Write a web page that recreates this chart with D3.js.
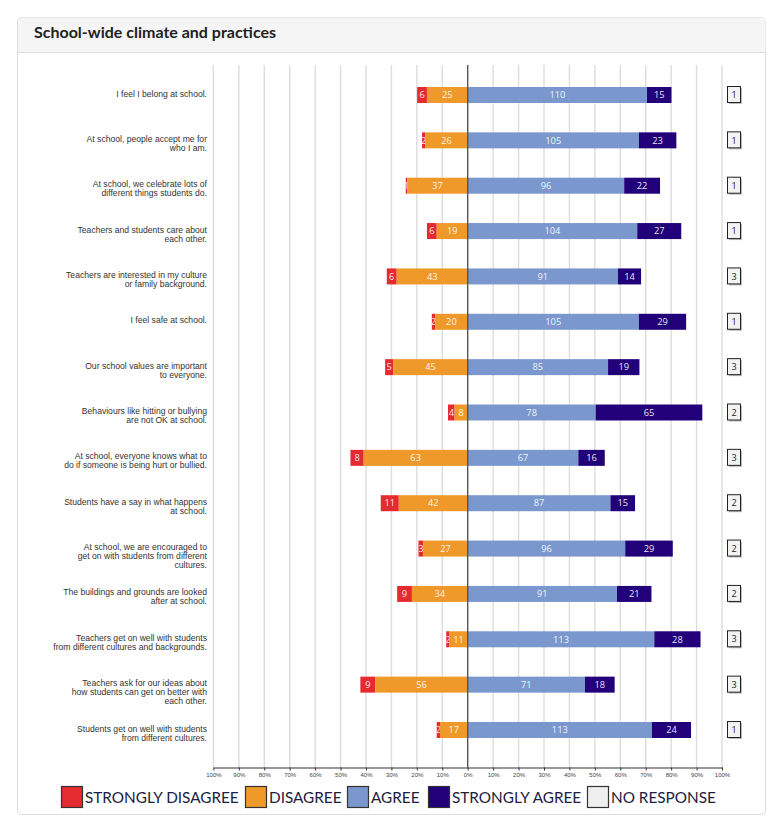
<!doctype html>
<html lang="en">
<head>
  <meta charset="UTF-8">
  <title>School-wide climate and practices</title>
  <style type="text/css">
    body { margin: 0; background: #fff; }
    svg { display: block; }
  </style>
  <script src="https://cdn.jsdelivr.net/npm/d3@7"></script>
</head>
<body>
  <svg id="chart" width="784" height="830"></svg>
  <script>
    // statements, each one already split into its display lines
    let statements = [
      ["I feel I belong at school."],
      ["At school, people accept me for", "who I am."],
      ["At school, we celebrate lots of", "different things students do."],
      ["Teachers and students care about", "each other."],
      ["Teachers are interested in my culture", "or family background."],
      ["I feel safe at school."],
      ["Our school values are important", "to everyone."],
      ["Behaviours like hitting or bullying", "are not OK at school."],
      ["At school, everyone knows what to", "do if someone is being hurt or bullied."],
      ["Students have a say in what happens", "at school."],
      ["At school, we are encouraged to", "get on with students from different", "cultures."],
      ["The buildings and grounds are looked", "after at school."],
      ["Teachers get on well with students", "from different cultures and backgrounds."],
      ["Teachers ask for our ideas about", "how students can get on better with", "each other."],
      ["Students get on well with students", "from different cultures."]
    ]
    let stronglyDisagree = [6, 2, 1, 6, 6, 2, 5, 4, 8, 11, 3, 9, 2, 9, 2]
    let disagree = [25, 26, 37, 19, 43, 20, 45, 8, 63, 42, 27, 34, 11, 56, 17]
    let agree = [110, 105, 96, 104, 91, 105, 85, 78, 67, 87, 96, 91, 113, 71, 113]
    let stronglyAgree = [15, 23, 22, 27, 14, 29, 19, 65, 16, 15, 29, 21, 28, 18, 24]
    let noResponse = [1, 1, 1, 1, 3, 1, 3, 2, 3, 2, 2, 2, 3, 3, 1]
    let tickValues = [-100, -90, -80, -70, -60, -50, -40, -30, -20, -10, 0, 10, 20, 30, 40, 50, 60, 70, 80, 90, 100]
    let legendNames = ["STRONGLY DISAGREE", "DISAGREE", "AGREE", "STRONGLY AGREE", "NO RESPONSE"]
    let colors = ["#e52a30", "#f0992b", "#7a98ce", "#22007a", "#efefef"]

    let svg = d3.select("#chart")

    // card + header
    svg.append("rect").attr("x", 17.5).attr("y", 17.5).attr("width", 748).attr("height", 797)
      .attr("rx", 4).attr("fill", "#fff").attr("stroke", "#ddd")
    svg.append("path").attr("d", "M18,52 V21.5 a4,4 0 0 1 4,-4 H761.5 a4,4 0 0 1 4,4 V52 Z")
      .attr("fill", "#f5f5f5")
    svg.append("line").attr("x1", 18).attr("x2", 765).attr("y1", 52.5).attr("y2", 52.5).attr("stroke", "#ddd")
    svg.append("text").attr("x", 34).attr("y", 38).text("School-wide climate and practices")
      .attr("font-family", "Lato").attr("font-weight", "bold").attr("font-size", 16).attr("fill", "#222")

    let x = d3.scaleLinear().domain([-100, 100]).range([213.4, 722])
    let y = d3.scalePoint().domain(d3.range(statements.length)).range([95, 730])
    let gridTop = 65, gridBottom = 767.5

    // grid
    svg.append("g").selectAll("line")
      .data(tickValues.filter(d => d != 0))
      .enter().append("line")
      .attr("x1", d => x(d)).attr("x2", d => x(d))
      .attr("y1", gridTop).attr("y2", gridBottom)
      .attr("stroke", "#ddd").attr("stroke-width", 1.4)

    // rows: percentages are of those who answered (no response left out)
    let rows = statements.map(function (s, i) {
      let total = stronglyDisagree[i] + disagree[i] + agree[i] + stronglyAgree[i]
      let p = v => v / total * 100
      return {
        i: i,
        segs: [
          { k: 0, v: stronglyDisagree[i], x0: -p(disagree[i] + stronglyDisagree[i]), x1: -p(disagree[i]) },
          { k: 1, v: disagree[i], x0: -p(disagree[i]), x1: 0 },
          { k: 2, v: agree[i], x0: 0, x1: p(agree[i]) },
          { k: 3, v: stronglyAgree[i], x0: p(agree[i]), x1: p(agree[i] + stronglyAgree[i]) }
        ]
      }
    })

    let barH = 16
    let defs = svg.append("defs")
    let row = svg.append("g").selectAll("g").data(rows).enter().append("g")

    let seg = row.selectAll("g").data(d => d.segs.map(s => Object.assign({ i: d.i }, s)))
      .enter().append("g")
    seg.each(function (d) {
      defs.append("clipPath").attr("id", "c" + d.i + "_" + d.k)
        .append("rect")
        .attr("x", x(d.x0)).attr("width", x(d.x1) - x(d.x0))
        .attr("y", y(d.i) - barH / 2).attr("height", barH)
    })
    seg.append("rect")
      .attr("x", d => x(d.x0)).attr("width", d => x(d.x1) - x(d.x0))
      .attr("y", d => y(d.i) - barH / 2).attr("height", barH)
      .attr("fill", d => colors[d.k])
    seg.append("text")
      .attr("clip-path", d => "url(#c" + d.i + "_" + d.k + ")")
      .attr("x", d => (x(d.x0) + x(d.x1)) / 2).attr("y", d => y(d.i))
      .attr("dy", "0.35em").attr("text-anchor", "middle")
      .attr("font-family", "Open Sans").attr("font-size", 9.3).attr("fill", "#fff").attr("fill-opacity", 0.92)
      .text(d => d.v)

    // zero line
    svg.append("line").attr("x1", x(0)).attr("x2", x(0)).attr("y1", gridTop).attr("y2", gridBottom)
      .attr("stroke", "#555").attr("stroke-width", 1.4)

    // statement labels
    row.append("text")
      .attr("text-anchor", "end")
      .attr("font-family", "Liberation Sans, Arial").attr("font-size", 8.6).attr("fill", "#333")
      .selectAll("tspan").data(d => statements[d.i].map((t, j) => ({ t: t, j: j, i: d.i })))
      .enter().append("tspan")
      .attr("x", 207).attr("y", d => y(d.i) - 1.5 + d.j * 9).attr("dy", "0.35em")
      .text(d => d.t)

    // no response boxes
    row.append("rect").attr("x", 729).attr("y", d => y(d.i) - 7).attr("width", 13).attr("height", 16)
      .attr("fill", "#bbb")
    row.append("rect").attr("x", 727.5).attr("y", d => y(d.i) - 8.5).attr("width", 13).attr("height", 16)
      .attr("fill", "#f3f3f3").attr("stroke", "#222").attr("stroke-width", 1)
    row.append("text").attr("x", 734).attr("y", d => y(d.i)).attr("dy", "0.35em")
      .attr("text-anchor", "middle").attr("font-family", "Open Sans").attr("font-size", 9).attr("fill", "#223")
      .text(d => noResponse[d.i])

    // axis
    let axis = svg.append("g").attr("transform", "translate(0," + gridBottom + ")")
      .call(d3.axisBottom(x).tickValues(tickValues).tickSize(3).tickSizeOuter(0)
        .tickFormat(d => Math.abs(d) + "%"))
    axis.select(".domain").attr("stroke", "#333").attr("stroke-width", 1.2)
    axis.selectAll(".tick line").attr("stroke", "#333")
    axis.selectAll("text").attr("font-family", "Liberation Sans, Arial").attr("font-size", 6)
      .attr("fill", "#444").attr("dy", "0.5em")

    // legend
    let legendX = [61, 245, 347, 428, 587]
    let leg = svg.append("g").selectAll("g").data(legendNames).enter().append("g")
      .attr("transform", (d, i) => "translate(" + legendX[i] + ",786)")
    leg.append("rect").attr("width", 21).attr("height", 21).attr("x", 0.5).attr("y", 0.5)
      .attr("fill", (d, i) => colors[i]).attr("stroke", "#333").attr("stroke-width", 1.2)
    leg.append("text").attr("x", 24).attr("y", 17)
      .attr("font-family", "Lato").attr("font-size", 15.3).attr("fill", "#1c2140")
      .text(d => d)
  </script>
</body>
</html>
